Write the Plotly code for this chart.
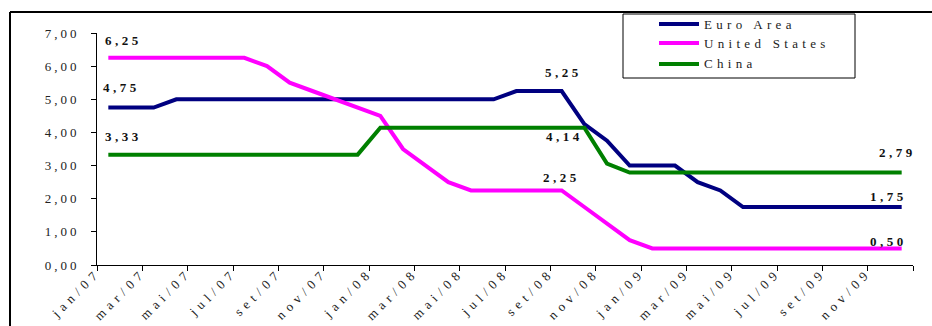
import plotly.graph_objects as go

# Monthly policy rates, jan/07 .. dez/09 (36 months)
month_names = ["jan", "fev", "mar", "abr", "mai", "jun",
               "jul", "ago", "set", "out", "nov", "dez"]
periods = [f"{m}/{y:02d}" for y in (7, 8, 9) for m in month_names]

euro_area = [4.75, 4.75, 4.75,
             5.00, 5.00, 5.00, 5.00, 5.00, 5.00, 5.00, 5.00, 5.00,
             5.00, 5.00, 5.00, 5.00, 5.00, 5.00,
             5.25, 5.25, 5.25, 4.25, 3.75, 3.00,
             3.00, 3.00, 2.50, 2.25, 1.75, 1.75,
             1.75, 1.75, 1.75, 1.75, 1.75, 1.75]

united_states = [6.25, 6.25, 6.25, 6.25, 6.25, 6.25,
                 6.25, 6.00, 5.50, 5.25, 5.00, 4.75,
                 4.50, 3.50, 3.00, 2.50, 2.25, 2.25,
                 2.25, 2.25, 2.25, 1.75, 1.25, 0.75,
                 0.50, 0.50, 0.50, 0.50, 0.50, 0.50,
                 0.50, 0.50, 0.50, 0.50, 0.50, 0.50]

china = [3.33, 3.33, 3.33, 3.33, 3.33, 3.33,
         3.33, 3.33, 3.33, 3.33, 3.33, 3.33,
         4.14, 4.14, 4.14, 4.14, 4.14, 4.14,
         4.14, 4.14, 4.14, 4.14, 3.06, 2.79,
         2.79, 2.79, 2.79, 2.79, 2.79, 2.79,
         2.79, 2.79, 2.79, 2.79, 2.79, 2.79]

series_names = ["Euro Area", "United States", "China"]
series_values = [euro_area, united_states, china]
series_colors = ["#000080", "#FF00FF", "#008000"]

tick_labels = ["jan/07", "mar/07", "mai/07", "jul/07", "set/07", "nov/07",
               "jan/08", "mar/08", "mai/08", "jul/08", "set/08", "nov/08",
               "jan/09", "mar/09", "mai/09", "jul/09", "set/09", "nov/09"]
y_ticks = [0, 1, 2, 3, 4, 5, 6, 7]

# (series index, month index, x shift px, y shift px)
value_labels = [
    (1, 0, 15, 17), (0, 0, 13, 20), (2, 0, 15, 18),
    (0, 20, 2, 19), (2, 20, 3, -9), (1, 20, 0, 13),
    (2, 35, -4, 20), (0, 35, -13, 11), (1, 35, -13, 7),
]

W, H = 932, 326
ML, MR, MT, MB = 97, 19, 33, 61
PW, PH = W - ML - MR, H - MT - MB


def px_x(x):
    return (x - ML) / PW


def px_y(y):
    return (H - MB - y) / PH


FONT = "Liberation Serif, Times New Roman, serif"
xs = list(range(len(periods)))

fig = go.Figure()
for name, vals, col in zip(series_names, series_values, series_colors):
    fig.add_trace(go.Scatter(
        x=xs, y=vals, name=name, mode="lines",
        line=dict(color=col, width=4), showlegend=False,
        customdata=periods, hovertemplate="%{customdata}: %{y}<extra>" + name + "</extra>",
    ))

annotations = []
for si, mi, dx, dy in value_labels:
    v = series_values[si][mi]
    annotations.append(dict(
        x=mi, y=v, xref="x", yref="y", text=f"{v:.2f}".replace(".", ","),
        showarrow=False, xshift=dx, yshift=dy,
        font=dict(family=FONT, size=13, color="#111111", weight="bold"),
    ))

shapes = [
    # outer frame (top and left edges)
    dict(type="line", xref="paper", yref="paper", x0=px_x(10), x1=px_x(W + 5),
         y0=px_y(12), y1=px_y(12), line=dict(color="black", width=2)),
    dict(type="line", xref="paper", yref="paper", x0=px_x(10), x1=px_x(10),
         y0=px_y(12), y1=px_y(H + 5), line=dict(color="black", width=2)),
    # legend box
    dict(type="rect", xref="paper", yref="paper", x0=px_x(623), x1=px_x(855),
         y0=px_y(78), y1=px_y(14), line=dict(color="black", width=1),
         fillcolor="white", layer="above"),
]

legend_rows = [24, 43, 64]
for name, col, ry in zip(series_names, series_colors, legend_rows):
    shapes.append(dict(type="line", xref="paper", yref="paper",
                       x0=px_x(659), x1=px_x(699), y0=px_y(ry), y1=px_y(ry),
                       line=dict(color=col, width=4), layer="above"))
    annotations.append(dict(
        x=px_x(702), y=px_y(ry), xref="paper", yref="paper", text=name,
        showarrow=False, xanchor="left", yanchor="middle", align="left",
        font=dict(family=FONT, size=13, color="#222222"),
    ))

fig.update_layout(
    width=W, height=H, autosize=False,
    margin=dict(l=ML, r=MR, t=MT, b=MB, pad=0),
    paper_bgcolor="white", plot_bgcolor="white",
    separators=",.",
    font=dict(family=FONT, size=13, color="#222222"),
    shapes=shapes, annotations=annotations,
    hovermode="closest",
)
fig.update_xaxes(
    range=[-0.5, len(periods) - 0.5],
    tickmode="array",
    tickvals=[-0.5 + 2 * k for k in range(len(tick_labels) + 1)],
    ticktext=tick_labels + [""],
    tickangle=-45, ticks="outside", ticklen=5, tickcolor="black",
    ticklabelstandoff=-11,
    showline=True, linecolor="black", linewidth=1,
    showgrid=False, zeroline=False,
    tickfont=dict(family=FONT, size=13, color="#222222"),
)
fig.update_yaxes(
    range=[0, 7], tickmode="array", tickvals=y_ticks, tickformat=".2f",
    ticks="outside", ticklen=5, tickcolor="black",
    ticklabelstandoff=9,
    showline=True, linecolor="black", linewidth=1,
    showgrid=False, zeroline=False,
    tickfont=dict(family=FONT, size=13, color="#222222"),
)

# Wide letter spacing for the typeset look of all chart text
spacing_js = """
var gd = document.getElementById('{plot_id}');
function spread() {
  gd.querySelectorAll('.xtick text').forEach(function(t){ t.style.letterSpacing = '5px'; });
  gd.querySelectorAll('.ytick text').forEach(function(t){ t.style.letterSpacing = '3px'; });
  gd.querySelectorAll('.annotation-text').forEach(function(t){
    var w = t.style.fontWeight;
    t.style.letterSpacing = (w === 'bold' || w === '700') ? '3.5px' : '4.3px';
  });
}
spread();
gd.on('plotly_afterplot', spread);
"""

fig.write_html("out.html", post_script=spacing_js)
